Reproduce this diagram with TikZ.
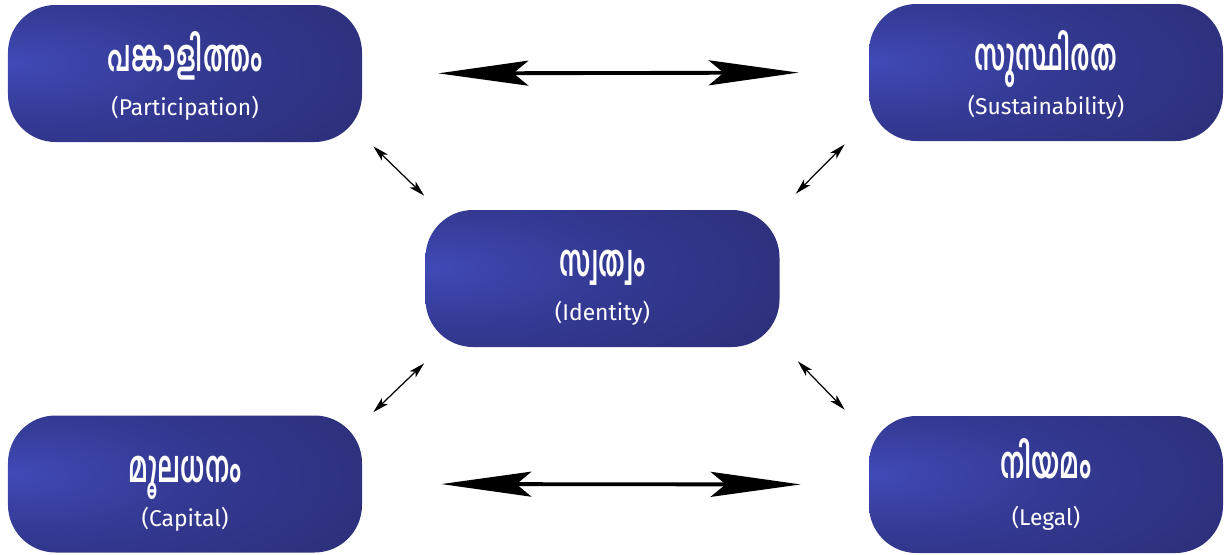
\documentclass[tikz,border=0pt]{standalone}
\usepackage{fontspec}
\setsansfont{Fira Sans}
\newfontfamily\malfont[Script=Malayalam, FakeStretch=0.58]{Hind Kochi}
\usetikzlibrary{arrows.meta}

\definecolor{boxlight}{RGB}{64,74,182}
\definecolor{boxmid}{RGB}{52,58,148}
\definecolor{boxdark}{RGB}{40,42,108}
\pgfdeclareradialshading{boxglow}{\pgfpoint{-25bp}{4bp}}{color(0bp)=(boxlight); color(20bp)=(boxmid); color(58bp)=(boxdark); color(100bp)=(boxdark)}

\tikzset{
  box/.style={rectangle, rounded corners=0.95cm, minimum width=7.08cm, minimum height=2.74cm,
    shading=boxglow, align=center, inner sep=0pt},
  maltext/.style={text=white, inner sep=0pt, text height=0.55cm, text depth=0.1cm,
    font=\malfont\bfseries\fontsize{25}{28}\selectfont},
  entext/.style={text=white, inner sep=0pt, font=\sffamily\fontsize{13}{16}\selectfont},
  bigarrow/.style={line width=2.2pt,
    {Stealth[length=1.8cm,width=0.5cm,inset=0.3cm]}-{Stealth[length=1.8cm,width=0.5cm,inset=0.3cm]}},
  smallarrow/.style={line width=0.7pt,
    {Stealth[length=3.2mm,width=1.7mm,inset=0.8mm]}-{Stealth[length=3.2mm,width=1.7mm,inset=0.8mm]}}
}

\begin{document}
\begin{tikzpicture}
\useasboundingbox (0,0) rectangle (24.5,-11.08);

% Boxes
\node[box] (part-box) at (3.7, -1.47) {};
\node[box] (sust-box) at (20.92, -1.45) {};
\node[box] (iden-box) at (12.05, -5.57) {};
\node[box] (capi-box) at (3.7, -9.68) {};
\node[box] (lega-box) at (20.92, -9.69) {};

% Labels
\node[maltext] (part-ml) at ([yshift=0.26cm]part-box.center) {പങ്കാളിത്തം};
\node[entext]  (part-en) at ([yshift=-0.7cm]part-box.center) {(Participation)};
\node[maltext] (sust-ml) at ([yshift=0.26cm]sust-box.center) {സുസ്ഥിരത};
\node[entext]  (sust-en) at ([yshift=-0.7cm]sust-box.center) {(Sustainability)};
\node[maltext] (iden-ml) at ([yshift=0.26cm]iden-box.center) {സ്വത്വം};
\node[entext]  (iden-en) at ([yshift=-0.7cm]iden-box.center) {(Identity)};
\node[maltext] (capi-ml) at ([yshift=0.26cm]capi-box.center) {മൂലധനം};
\node[entext]  (capi-en) at ([yshift=-0.7cm]capi-box.center) {(Capital)};
\node[maltext] (lega-ml) at ([yshift=0.34cm]lega-box.center) {നിയമം};
\node[entext]  (lega-en) at ([yshift=-0.67cm]lega-box.center) {(Legal)};

% Arrows
\draw[bigarrow, shorten <=1.52cm, shorten >=1.4cm] (part-box.east) -- (sust-box.west);
\draw[bigarrow, shorten <=1.58cm, shorten >=1.36cm] (capi-box.east) -- (lega-box.west);

\draw[smallarrow] ([shift={(0.22,-0.08)}]part-box.south east) -- ([shift={(-0.02,0.28)}]iden-box.north west);
\draw[smallarrow] ([shift={(-0.48,-0.06)}]sust-box.south west) -- ([shift={(0.32,0.32)}]iden-box.north east);
\draw[smallarrow] ([shift={(0.22,0.06)}]capi-box.north east) -- ([shift={(-0.02,-0.32)}]iden-box.south west);
\draw[smallarrow] ([shift={(-0.48,0.12)}]lega-box.north west) -- ([shift={(0.36,-0.28)}]iden-box.south east);

\end{tikzpicture}
\end{document}
